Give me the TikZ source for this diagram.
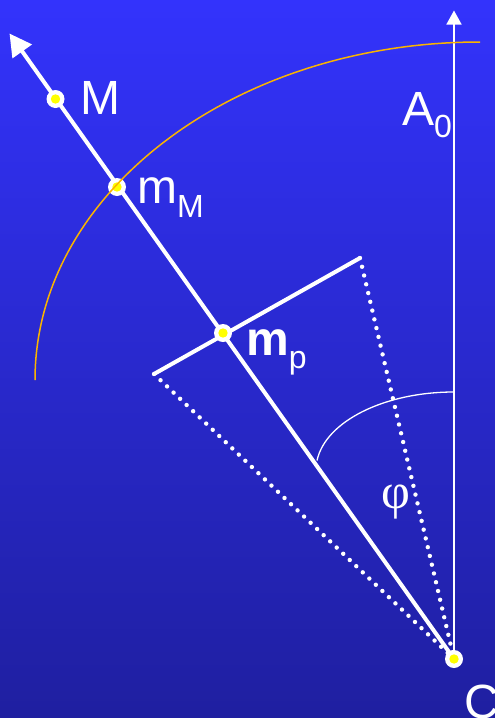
\documentclass[tikz,border=0pt]{standalone}
\usepackage{fontspec}
\setmainfont{Liberation Sans}
\newfontfamily\phifont{Liberation Serif}
\usetikzlibrary{arrows.meta}
\definecolor{bgtop}{RGB}{51,51,252}
\definecolor{bgbot}{RGB}{31,31,160}
\definecolor{arcorange}{RGB}{250,180,0}
\definecolor{dotyellow}{RGB}{255,255,0}
\tikzset{
  mainline/.style={white, line width=4pt},
  thinline/.style={white, line width=1.5pt},
  dotline/.style={white, line width=4.4pt, line cap=round, dash pattern=on 0pt off 9pt},
  lbl/.style={text=white, inner sep=0pt, anchor=base west, font=\fontsize{48}{56}\selectfont},
}
\newcommand{\subtxt}[2]{\raisebox{-#1pt}{\fontsize{32}{38}\selectfont #2}}
\newcommand{\pointmark}[1]{\fill[white] (#1) circle[radius=9pt]; \fill[dotyellow] (#1) circle[radius=4.7pt];}
\begin{document}
\begin{tikzpicture}[x=1pt,y=-1pt]
\shade[top color=bgtop, bottom color=bgbot] (0,0) rectangle (495,718);
\useasboundingbox (0,0) rectangle (495,718);
% key points
\coordinate (C) at (454,659);
\coordinate (Mtip) at (9.5,33.5);
\coordinate (Atip) at (454,10.5);
\coordinate (M) at (55.5,99);
\coordinate (mM) at (117,187);
\coordinate (mp) at (223,333);
\coordinate (L) at (154,374);
\coordinate (R) at (360,258);
\coordinate (arcL) at (35,380);
\coordinate (angS) at (454,392);
% angle arc
\draw[white, line width=1.3pt] (angS) arc[start angle=-90, end angle=-173, x radius=138, y radius=78];
% dotted lines
\draw[dotline] (L) -- (C);
\draw[dotline] (R) -- (C);
% vertical axis
\draw[thinline, -{Triangle[length=14pt,width=15pt]}] (C) -- (Atip);
% main line
\draw[mainline, -{Triangle[length=22pt,width=23pt]}] (C) -- (Mtip);
% perpendicular
\draw[mainline] (L) -- (R);
% points
\pointmark{M}
\pointmark{mp}
\pointmark{C}
\pointmark{mM}
% orange arc
\draw[arcorange, line width=1.5pt] (arcL) arc[start angle=180, end angle=270, x radius=445, y radius=338];
% labels
\node[lbl] (lM) at (80,114) {M};
\node[lbl] (lmM) at (137,203) {m\subtxt{14}{M}};
\node[lbl] (lA) at (402,125) {A\subtxt{12}{0}};
\node[lbl] (lmp) at (246,355) {\textbf{m}\subtxt{13}{p}};
\node[lbl] (lC) at (464,718) {C};
\node[text=white, inner sep=0pt, font=\phifont\fontsize{50}{56}\selectfont] (phi) at (396,502) {φ};
\end{tikzpicture}
\end{document}
